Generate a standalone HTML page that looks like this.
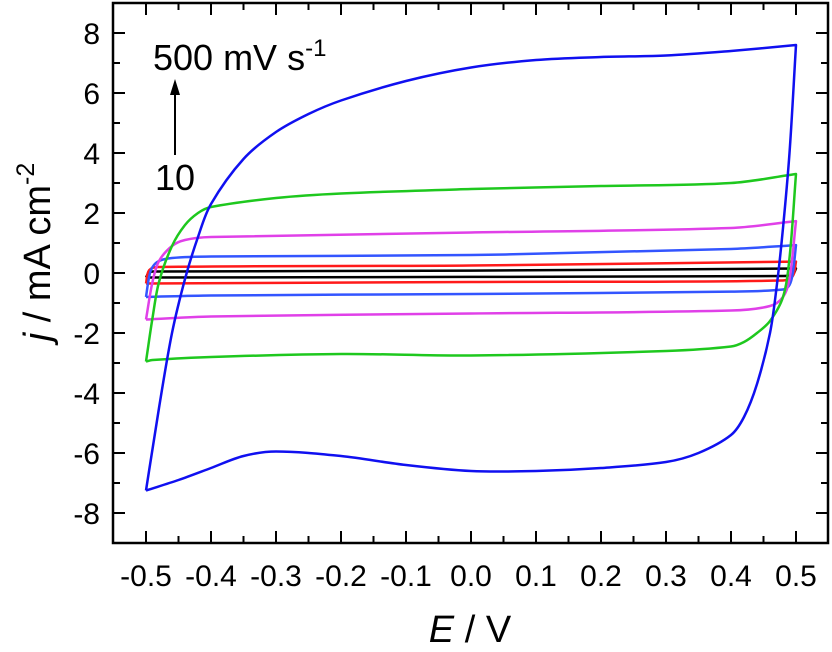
<!DOCTYPE html>
<html><head><meta charset="utf-8"><style>
html,body{margin:0;padding:0;background:#fff;}
svg{display:block;font-family:"Liberation Sans",Arial,sans-serif;}
</style></head><body>
<svg id="chart" width="832" height="652" viewBox="0 0 832 652" xmlns="http://www.w3.org/2000/svg">
<g id="ticks"></g>
<g id="curves"></g>
<rect x="113" y="3" width="715" height="540" fill="none" stroke="#000" stroke-width="2.5"/>
<text x="153" y="70" font-size="36">500 mV s<tspan font-size="24" dy="-14">-1</tspan></text>
<line x1="175" y1="155" x2="175" y2="92" stroke="#000" stroke-width="2"/>
<polygon points="175,79 170,95 180,95" fill="#000"/>
<text x="155" y="190" font-size="36">10</text>
<text x="470" y="642" font-size="38" text-anchor="middle"><tspan font-style="italic">E</tspan> / V</text>
<text transform="translate(50,252) rotate(-90)" font-size="38" text-anchor="middle"><tspan font-style="italic">j</tspan> / mA cm<tspan font-size="25" dy="-16">-2</tspan></text>
</svg>
<script>
const xTicks=[-0.5,-0.4,-0.3,-0.2,-0.1,0.0,0.1,0.2,0.3,0.4,0.5];
const xTickLabels=["-0.5","-0.4","-0.3","-0.2","-0.1","0.0","0.1","0.2","0.3","0.4","0.5"];
const yTicks=[-8,-6,-4,-2,0,2,4,6,8];
const yTickLabels=["-8","-6","-4","-2","0","2","4","6","8"];
const seriesNames=["black-10","red","lightblue","magenta","green","blue-500"];
const seriesColors=["#000000","#ff1a1a","#3355ff","#e040e8","#1ec81e","#1010f0"];
const fwdE=[
[-0.5,-0.495,-0.48,0,0.5],
[-0.5,-0.495,-0.48,0,0.5],
[-0.5,-0.495,-0.49,-0.48,-0.46,-0.4,0,0.4,0.5],
[-0.5,-0.49,-0.48,-0.46,-0.44,-0.4,0,0.4,0.5],
[-0.5,-0.49,-0.48,-0.46,-0.44,-0.42,-0.4,-0.3,-0.2,0,0.2,0.4,0.5],
[-0.5,-0.48,-0.46,-0.44,-0.42,-0.4,-0.35,-0.3,-0.25,-0.2,-0.1,0,0.1,0.2,0.3,0.4,0.5]];
const fwdJ=[
[-0.15,0.02,0.05,0.08,0.15],
[-0.35,0.1,0.2,0.25,0.38],
[-0.8,-0.1,0.2,0.4,0.5,0.55,0.6,0.8,0.93],
[-1.55,-0.3,0.4,0.9,1.1,1.2,1.35,1.5,1.73],
[-2.95,-1.5,-0.3,0.9,1.6,2.0,2.2,2.5,2.65,2.8,2.9,3.0,3.3],
[-7.25,-4.5,-2,-0.2,1.2,2.3,3.8,4.7,5.3,5.75,6.4,6.85,7.1,7.2,7.25,7.4,7.6]];
const revE=[
[0.5,0.495,0.48,0,-0.5],
[0.5,0.495,0.48,0,-0.5],
[0.5,0.495,0.49,0.48,0.4,0,-0.4,-0.5],
[0.5,0.49,0.48,0.46,0.4,0,-0.4,-0.5],
[0.5,0.49,0.48,0.46,0.44,0.42,0.4,0.3,0,-0.2,-0.4,-0.49,-0.5],
[0.5,0.49,0.48,0.47,0.46,0.44,0.42,0.4,0.35,0.3,0.2,0.1,0,-0.1,-0.2,-0.3,-0.35,-0.4,-0.45,-0.5]];
const revJ=[
[0.15,-0.05,-0.1,-0.13,-0.15],
[0.38,-0.1,-0.25,-0.3,-0.35],
[0.93,0,-0.4,-0.55,-0.62,-0.7,-0.75,-0.8],
[1.73,-0.2,-0.8,-1.1,-1.25,-1.35,-1.45,-1.55],
[3.3,0.5,-0.8,-1.6,-2.0,-2.3,-2.45,-2.6,-2.75,-2.7,-2.8,-2.9,-2.95],
[7.6,4,1.5,-0.5,-2,-3.7,-4.8,-5.4,-6.0,-6.3,-6.5,-6.6,-6.6,-6.4,-6.1,-5.95,-6.1,-6.5,-6.9,-7.25]];

const NS="http://www.w3.org/2000/svg";
const X=e=>146+(e+0.5)*650;
const Y=j=>273-j*30;
const tg=document.getElementById('ticks');
function ln(x1,y1,x2,y2,name){const l=document.createElementNS(NS,'line');
l.setAttribute('x1',x1);l.setAttribute('y1',y1);l.setAttribute('x2',x2);l.setAttribute('y2',y2);
l.setAttribute('stroke','#000');l.setAttribute('stroke-width','2');


tg.appendChild(l);}
function tx(x,y,s,anchor,name){const t=document.createElementNS(NS,'text');
t.setAttribute('x',x);t.setAttribute('y',y);t.setAttribute('font-size','30');t.setAttribute('text-anchor',anchor);t.textContent=s;


tg.appendChild(t);}
xTicks.forEach((v,i)=>{const x=X(v);
ln(x,543,x,531,'x-tick');ln(x,3,x,15,'x-tick-top');
tx(x,586,xTickLabels[i],'middle','x-tick-label');
if(i<xTicks.length-1){const m=X(v+0.05);ln(m,543,m,536,'x-minor-tick');ln(m,3,m,10,'x-minor-tick-top');}});
yTicks.forEach((v,i)=>{const y=Y(v);
ln(113,y,125,y,'y-tick');ln(828,y,816,y,'y-tick-right');
tx(100,y+11,yTickLabels[i],'end','y-tick-label');
const m=Y(v+1);if(v<8){ln(113,m,120,m,'y-minor-tick');ln(828,m,821,m,'y-minor-tick-right');}});
function tang(P,i){const a=P[Math.max(i-1,0)],b=P[Math.min(i+1,P.length-1)];
const dx=b[0]-a[0],dy=b[1]-a[1],L=Math.hypot(dx,dy)||1;return [dx/L,dy/L];}
function smooth(P){let d='M'+P[0][0].toFixed(1)+','+P[0][1].toFixed(1);
for(let i=0;i<P.length-1;i++){const p1=P[i],p2=P[i+1];
const s=Math.hypot(p2[0]-p1[0],p2[1]-p1[1])/3;
const t1=tang(P,i),t2=tang(P,i+1);
const c1=[p1[0]+t1[0]*s,p1[1]+t1[1]*s];
const c2=[p2[0]-t2[0]*s,p2[1]-t2[1]*s];
d+=' C'+c1.map(v=>v.toFixed(1)).join(',')+' '+c2.map(v=>v.toFixed(1)).join(',')+' '+p2[0].toFixed(1)+','+p2[1].toFixed(1);}
return d;}
const cg=document.getElementById('curves');
seriesNames.forEach((n,k)=>{
const a=fwdE[k].map((e,i)=>[X(e),Y(fwdJ[k][i])]);
const b=revE[k].map((e,i)=>[X(e),Y(revJ[k][i])]);
const p=document.createElementNS(NS,'path');
p.setAttribute('d',smooth(a)+' '+smooth(b).replace('M','L'));p.setAttribute('fill','none');
p.setAttribute('stroke',seriesColors[k]);p.setAttribute('stroke-width','2.5');p.setAttribute('stroke-linejoin','round');


cg.appendChild(p);});
</script>
</body></html>
